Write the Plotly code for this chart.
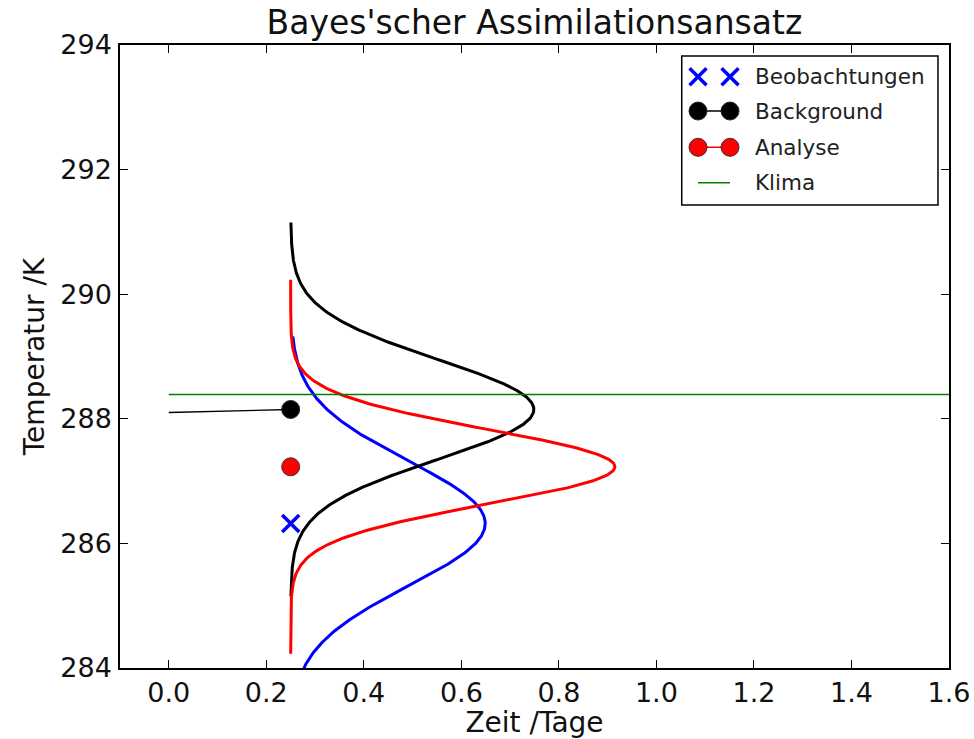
import numpy as np
import plotly.graph_objects as go

# --- data -------------------------------------------------------------
t_analysis = 0.25                      # analysis time /Tage
obs_temp = 286.32                      # observation /K
bg_temp = 288.15                       # background /K
ana_temp = 287.23                      # analysis /K
obs_sigma = 1.0
bg_sigma = 0.8
ana_sigma = 0.6
pdf_halfwidth = 3.0                    # K drawn either side of each mean

bg_track_t = [0.0, 0.25]               # background forecast trajectory
bg_track_T = [288.10, 288.15]

klima_t = [0.0, 1.6]
klima_T = [288.39, 288.39]

x_ticks = [0.0, 0.2, 0.4, 0.6, 0.8, 1.0, 1.2, 1.4, 1.6]
y_ticks = [284, 286, 288, 290, 292, 294]

BLUE, BLACK, RED, GREEN = "#0000ff", "#000000", "#ff0000", "#008000"
FONT = "DejaVu Sans"


def sideways_pdf(mean, sigma, n=400):
    """Gaussian density drawn horizontally, hanging off the analysis time."""
    T = np.linspace(mean - pdf_halfwidth, mean + pdf_halfwidth, n)
    dens = np.exp(-0.5 * ((T - mean) / sigma) ** 2) / (sigma * np.sqrt(2 * np.pi))
    return t_analysis + dens, T


fig = go.Figure()

for mean, sig, col in [(obs_temp, obs_sigma, BLUE),
                       (bg_temp, bg_sigma, BLACK),
                       (ana_temp, ana_sigma, RED)]:
    px, py = sideways_pdf(mean, sig)
    fig.add_trace(go.Scatter(x=px, y=py, mode="lines",
                             line=dict(color=col, width=3)))

fig.add_trace(go.Scatter(x=klima_t, y=klima_T, mode="lines",
                         line=dict(color=GREEN, width=1.6)))
fig.add_trace(go.Scatter(x=bg_track_t, y=bg_track_T, mode="lines",
                         line=dict(color=BLACK, width=1.4)))

fig.add_trace(go.Scatter(x=[t_analysis], y=[bg_temp], mode="markers",
                         marker=dict(symbol="circle", size=18, color=BLACK,
                                     line=dict(color="#222222", width=1))))
fig.add_trace(go.Scatter(x=[t_analysis], y=[ana_temp], mode="markers",
                         marker=dict(symbol="circle", size=18, color=RED,
                                     line=dict(color="#333333", width=1))))
fig.add_trace(go.Scatter(x=[t_analysis], y=[obs_temp], mode="markers",
                         marker=dict(symbol="x-thin", size=17,
                                     line=dict(color=BLUE, width=3.5))))

# --- legend, drawn on its own hidden axis pair (pixel units inside the box)
legend_entries = ["Beobachtungen", "Background", "Analyse", "Klima"]
row_y = [20.7, 55.0, 91.3, 126.7]
sym_x = [16.3, 48.3]
text_x = 71.0

fig.add_trace(go.Scatter(x=sym_x, y=[row_y[0]] * 2, mode="markers",
                         xaxis="x2", yaxis="y2",
                         marker=dict(symbol="x-thin", size=17,
                                     line=dict(color=BLUE, width=3.5))))
fig.add_trace(go.Scatter(x=sym_x, y=[row_y[1]] * 2, mode="lines+markers",
                         xaxis="x2", yaxis="y2",
                         line=dict(color=BLACK, width=1.4),
                         marker=dict(symbol="circle", size=18, color=BLACK,
                                     line=dict(color="#222222", width=1))))
fig.add_trace(go.Scatter(x=sym_x, y=[row_y[2]] * 2, mode="lines+markers",
                         xaxis="x2", yaxis="y2",
                         line=dict(color=RED, width=1.6),
                         marker=dict(symbol="circle", size=18, color=RED,
                                     line=dict(color="#333333", width=1))))
fig.add_trace(go.Scatter(x=sym_x, y=[row_y[3]] * 2, mode="lines",
                         xaxis="x2", yaxis="y2",
                         line=dict(color=GREEN, width=1.6)))

annotations = [dict(x=text_x, y=yy, xref="x2", yref="y2", text=txt,
                    showarrow=False, xanchor="left", yanchor="middle",
                    font=dict(family=FONT, size=21.5, color="#222222"))
               for txt, yy in zip(legend_entries, row_y)]

leg_x0, leg_x1 = 0.6776, 0.9867
leg_y0, leg_y1 = 0.7432, 0.9823

axis_common = dict(
    showline=True, linecolor="black", linewidth=1.5, mirror="ticks",
    ticks="inside", ticklen=8, tickwidth=1, tickcolor="black",
    showgrid=False, zeroline=False, automargin=False,
    tickfont=dict(family=FONT, size=27, color="#111111"),
    title_font=dict(family=FONT, size=28, color="#111111"),
)

fig.update_layout(
    width=974, height=739,
    margin=dict(l=120, r=25, t=45, b=71),
    paper_bgcolor="white", plot_bgcolor="white",
    showlegend=False,
    title=dict(text="Bayes'scher Assimilationsansatz", x=0.5487, xanchor="center",
               y=0.97, yanchor="middle",
               font=dict(family=FONT, size=33, color="#111111")),
    xaxis=dict(range=[-0.1, 1.6], tickvals=x_ticks, tickformat=".1f",
               ticklabelstandoff=0,
               title=dict(text="Zeit /Tage", standoff=19), **axis_common),
    yaxis=dict(range=[284, 294], tickvals=y_ticks, ticklabelstandoff=1,
               title=dict(text="Temperatur /K", standoff=8), **axis_common),
    xaxis2=dict(domain=[leg_x0, leg_x1], range=[0, 256.3], visible=False,
                anchor="y2", fixedrange=True),
    yaxis2=dict(domain=[leg_y0, leg_y1], range=[149, 0], visible=False,
                anchor="x2", fixedrange=True),
    shapes=[dict(type="rect", xref="paper", yref="paper",
                 x0=leg_x0, x1=leg_x1, y0=leg_y0, y1=leg_y1,
                 line=dict(color="black", width=1.5), fillcolor="rgba(0,0,0,0)")],
    annotations=annotations,
)

fig.write_html("out.html")
